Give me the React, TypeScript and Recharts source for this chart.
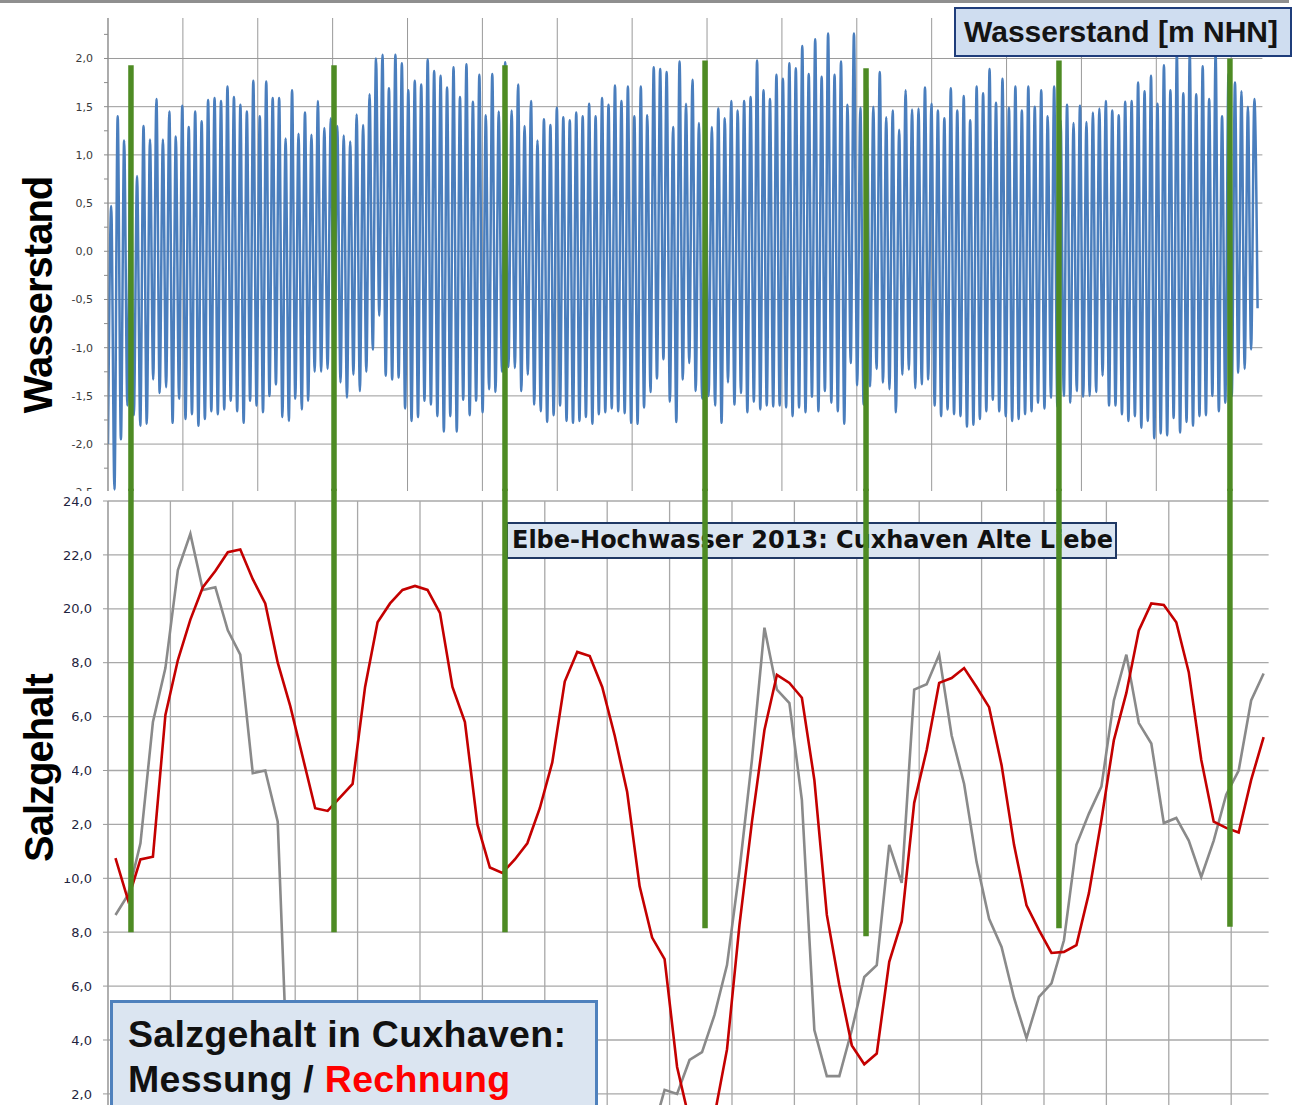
import React from "react";
import { LineChart, Line, XAxis, YAxis, CartesianGrid, ReferenceLine } from "recharts";

// Wasserstand Cuxhaven [m NHN]: Niedrig- und Hochwasser im Wechsel, beginnend mit Niedrigwasser
const niedrigwasser = [
  -2.0, -2.47, -1.95, -1.6, -1.7, -1.81, -1.79, -1.33, -1.47, -1.41, -1.78, -1.53, -1.74, -1.69, -1.81, -1.74,
  -1.66, -1.69, -1.64, -1.55, -1.66, -1.78, -1.55, -1.6, -1.67, -1.5, -1.38, -1.72, -1.76, -1.53, -1.64,
  -1.55, -1.25, -1.25, -1.22, -1.47, -1.36, -1.52, -1.28, -1.45, -1.25, -1.02, -0.67, -1.29, -1.33, -1.31,
  -1.63, -1.76, -1.72, -1.55, -1.59, -1.71, -1.87, -1.71, -1.87, -1.54, -1.7, -1.55, -1.67, -1.43,
  -1.46, -1.25, -1.2, -1.21, -1.45, -1.28, -1.59, -1.66, -1.77, -1.7, -1.6, -1.76, -1.78, -1.76, -1.72,
  -1.79, -1.69, -1.67, -1.63, -1.66, -1.68, -1.78, -1.79, -1.62, -1.46, -1.32, -1.12, -1.56, -1.77,
  -1.33, -1.16, -1.45, -1.53, -1.5, -1.6, -1.78, -1.36, -1.59, -1.47, -1.67, -1.56, -1.64, -1.6, -1.61,
  -1.6, -1.62, -1.71, -1.62, -1.67, -1.51, -1.66, -1.45, -1.57, -1.66, -1.79, -1.16, -1.39, -1.59,
  -1.4, -1.22, -1.36, -1.43, -1.67, -1.28, -1.23, -1.42, -1.38, -1.33, -1.6, -1.71, -1.64, -1.69, -1.71,
  -1.82, -1.8, -1.74, -1.66, -1.54, -1.66, -1.71, -1.76, -1.74, -1.69, -1.66, -1.57, -1.63, -1.52, -1.61,
  -1.5, -1.57, -1.45, -1.51, -1.5, -1.46, -1.29, -1.6, -1.6, -1.69, -1.76, -1.71, -1.83, -1.76, -1.94,
  -1.89, -1.91, -1.73, -1.88, -1.77, -1.81, -1.71, -1.7, -1.5, -1.66, -1.57, -1.5, -1.26, -1.22, -1.02,
];
const hochwasser = [
  0.47, 1.4, 1.15, 1.02, 0.78, 1.3, 1.16, 1.58, 1.16, 1.45, 1.19, 1.51, 1.29, 1.45, 1.35, 1.57, 1.59, 1.56,
  1.71, 1.6, 1.52, 1.45, 1.77, 1.4, 1.76, 1.59, 1.59, 1.17, 1.67, 1.22,
  1.44, 1.21, 1.56, 1.28, 1.38, 1.3, 1.2, 1.14, 1.42, 1.31, 1.63, 2.0, 2.04, 1.69, 2.04, 1.95, 1.67, 1.77,
  1.73, 1.99, 1.87, 1.82, 1.7, 1.91, 1.6, 1.94, 1.55, 1.83, 1.41, 1.84,
  1.45, 1.96, 1.46, 1.73, 1.3, 1.56, 1.15, 1.37, 1.31, 1.49, 1.39, 1.36, 1.44, 1.4, 1.53, 1.4, 1.59, 1.52,
  1.72, 1.56, 1.71, 1.4, 1.71, 1.41, 1.91, 1.89, 1.86, 1.29, 1.97,
  1.53, 1.78, 1.33, 1.47, 1.29, 1.48, 1.38, 1.56, 1.46, 1.56, 1.6, 1.98, 1.67, 1.58, 1.83, 1.79, 1.95, 1.9,
  2.13, 1.84, 2.2, 1.81, 2.26, 1.83, 1.97, 1.52, 2.26, 1.49, 1.71,
  1.5, 1.86, 1.39, 1.46, 1.26, 1.67, 1.47, 1.48, 1.7, 1.53, 1.46, 1.38, 1.69, 1.46, 1.61, 1.36, 1.71, 1.64,
  1.89, 1.54, 1.79, 1.49, 1.71, 1.46, 1.71, 1.5, 1.67, 1.4, 1.71,
  1.36, 1.52, 1.33, 1.51, 1.34, 1.44, 1.48, 1.56, 1.46, 1.41, 1.55, 1.56, 1.75, 1.66, 1.82, 1.53, 1.93,
  1.67, 2.05, 1.64, 2.05, 1.63, 1.92, 1.58, 2.05, 1.4, 1.84, 1.75, 1.66, 1.5, 1.58,
];
const wasserstandEnde = -0.59;

// Salzgehalt, ein Wert pro Tag
const rechnung = [
  10.75, 9.2, 10.7, 10.8, 16.06, 18.1, 19.6, 20.8, 21.4, 22.1,
  22.2, 21.1, 20.2, 18.0, 16.4, 14.5, 12.6, 12.5, 13.0, 13.5,
  17.1, 19.5, 20.2, 20.7, 20.85, 20.7, 19.85, 17.1, 15.8, 12.0,
  10.4, 10.2, 10.7, 11.3, 12.6, 14.3, 17.3, 18.4, 18.25, 17.1,
  15.3, 13.2, 9.7, 7.8, 7.0, 3.0, 1.0, 0.8, 1.2, 3.65,
  8.27, 12.1, 15.5, 17.55, 17.25, 16.7, 13.65, 8.64, 6.04, 3.8,
  3.1, 3.5, 6.9, 8.4, 12.8, 14.76, 17.25, 17.43, 17.8, 17.1,
  16.35, 14.2, 11.24, 9.0, 8.08, 7.23, 7.27, 7.52, 9.45, 12.16,
  15.13, 16.88, 19.2, 20.2, 20.14, 19.5, 17.65, 14.4, 12.1, 11.87,
  11.7, 13.65, 15.24,
];
const messung = [
  8.64, 9.38, 11.3, 15.8, 17.8, 21.44, 22.78, 20.7, 20.8, 19.2, 18.3, 13.9, 14.0, 12.1,
  0,
  ...Array(28).fill(null),
  0.5,
  2.15, 2.0, 3.26, 3.55, 4.93, 6.78, 10.3, 14.4, 19.3, 17.0,
  16.5, 12.9, 4.37, 2.66, 2.66, 4.37, 6.34, 6.78, 11.24, 9.83,
  17.0, 17.2, 18.3, 15.3, 13.5, 10.6, 8.5, 7.45, 5.56, 4.07,
  5.6, 6.1, 7.7, 11.24, 12.4, 13.4, 16.6, 18.3, 15.76, 15.0,
  12.05, 12.24, 11.4, 10.05, 11.4, 13.1, 14.0, 16.6, 17.6,
];

// grüne Markierungen (Tag, Oberkante Wasserstand, Unterkante Salzgehalt)
const markerTage = [1.84, 18.11, 31.81, 47.84, 60.74, 76.2, 89.9];
const markerOben = [1.93, 1.93, 1.93, 1.98, 1.9, 1.98, 2.0];
const markerUnten = [8.0, 8.0, 8.0, 8.15, 7.85, 8.15, 8.2];

const wasserTicks = [-2.5, -2.25, -2, -1.75, -1.5, -1.25, -1, -0.75, -0.5, -0.25, 0, 0.25, 0.5, 0.75, 1, 1.25, 1.5, 1.75, 2, 2.25];
const wasserGitter = [-2, -1.5, -1, -0.5, 0, 0.5, 1, 1.5, 2];
const wasserTageGitter = [0, 6, 12, 18, 24, 30, 36, 42, 48, 54, 60, 66, 72, 78, 84, 90];
const salzTicks = [2, 4, 6, 8, 10, 12, 14, 16, 18, 20, 22, 24];
const salzTageGitter = [0, 5, 10, 15, 20, 25, 30, 35, 40, 45, 50, 55, 60, 65, 70, 75, 80, 85, 90];

const HALBE_TIDE = 12.42 / 48; // Tage
const SALZ_START = 0.6;
const PX_TAG = 12.48;
const PLOT_LEFT = 108;
const AXIS_W = 60;
const WASSER_MIN = -2.5;
const WASSER_MAX = 2.42;
const PX_M = 96.4;
const PX_SALZ = 26.95;
const TOP_TAGE = 92.5;
const BOT_TAGE = 93;

const wasserData = (() => {
  const rows: { t: number; w: number }[] = [];
  let i = 0;
  for (let k = 0; k < niedrigwasser.length; k++) {
    rows.push({ t: i++ * HALBE_TIDE, w: niedrigwasser[k] });
    if (k < hochwasser.length) rows.push({ t: i++ * HALBE_TIDE, w: hochwasser[k] });
  }
  rows.push({ t: i * HALBE_TIDE, w: wasserstandEnde });
  return rows;
})();

const salzData = rechnung.map((r, k) => ({ t: SALZ_START + k, rechnung: r, messung: messung[k] }));

const komma = (v: number) => v.toFixed(1).replace(".", ",");
const GREEN = "#4e8b24";

function WasserChart() {
  const plotH = (WASSER_MAX - WASSER_MIN) * PX_M;
  return (
    <LineChart
      width={PLOT_LEFT + TOP_TAGE * PX_TAG + 10}
      height={18 + plotH + 20}
      data={wasserData}
      margin={{ top: 18, right: 10, bottom: 20, left: PLOT_LEFT - AXIS_W }}
    >
      <CartesianGrid horizontalValues={wasserGitter} verticalValues={wasserTageGitter} stroke="#9a9a9a" />
      <XAxis type="number" dataKey="t" domain={[0, TOP_TAGE]} ticks={wasserTageGitter} hide allowDataOverflow />
      <YAxis
        type="number"
        domain={[WASSER_MIN, WASSER_MAX]}
        ticks={wasserTicks}
        interval={0}
        allowDataOverflow
        width={AXIS_W}
        tickSize={4}
        tickMargin={11}
        stroke="#8c8c8c"
        tick={{ fontSize: 11, fill: "#3a3a3a", fontFamily: "DejaVu Sans" }}
        tickFormatter={(v: number) => (Math.abs(v * 2 - Math.round(v * 2)) > 1e-6 ? "" : komma(v))}
      />
      <Line type="monotone" dataKey="w" stroke="#4a7ebd" strokeWidth={2.5} dot={false} isAnimationActive={false} />
      {markerTage.map((d, i) => (
        <ReferenceLine
          key={d}
          segment={[{ x: d, y: markerOben[i] }, { x: d, y: WASSER_MIN }]}
          stroke={GREEN}
          strokeWidth={5.5}
          ifOverflow="visible"
        />
      ))}
    </LineChart>
  );
}

function SalzChart({ overlay }: { overlay?: boolean }) {
  const plotH = 24 * PX_SALZ;
  const top = overlay ? 20 : 10;
  return (
    <LineChart
      width={PLOT_LEFT + BOT_TAGE * PX_TAG + 10}
      height={top + plotH + 10}
      data={salzData}
      margin={{ top, right: 10, bottom: 10, left: overlay ? PLOT_LEFT : PLOT_LEFT - AXIS_W }}
    >
      {!overlay && (
        <CartesianGrid horizontalValues={salzTicks} verticalValues={salzTageGitter} stroke="#a8a8a8" strokeWidth={1.3} />
      )}
      <XAxis type="number" dataKey="t" domain={[0, BOT_TAGE]} ticks={salzTageGitter} hide allowDataOverflow />
      <YAxis
        type="number"
        domain={[0, 24]}
        ticks={salzTicks}
        interval={0}
        allowDataOverflow
        hide={overlay}
        width={AXIS_W}
        tickSize={5}
        tickMargin={11}
        stroke="#999999"
        tick={{ fontSize: 13, fill: "#1f2540", fontFamily: "DejaVu Sans" }}
        tickFormatter={komma}
      />
      {!overlay && (
        <Line type="linear" dataKey="messung" stroke="#8a8a8a" strokeWidth={2.6} dot={false} isAnimationActive={false} />
      )}
      {!overlay && (
        <Line type="linear" dataKey="rechnung" stroke="#c40000" strokeWidth={2.6} dot={false} isAnimationActive={false} />
      )}
      {overlay &&
        markerTage.map((d, i) => (
          <ReferenceLine
            key={d}
            segment={[{ x: d, y: 24.45 }, { x: d, y: markerUnten[i] }]}
            stroke={GREEN}
            strokeWidth={5.5}
            ifOverflow="visible"
          />
        ))}
    </LineChart>
  );
}

const titleFont = "'Liberation Sans', Arial, sans-serif";

export default function App() {
  return (
    <div
      style={{
        position: "fixed",
        left: 0,
        top: 0,
        width: 1294,
        height: 1105,
        overflow: "hidden",
        background: "#fff",
        fontFamily: titleFont,
      }}
    >
      <div style={{ position: "absolute", left: 0, top: 0, width: 1289, height: 3, background: "#8f8f8f" }} />

      <div style={{ position: "absolute", left: 0, top: 0 }}>
        <WasserChart />
      </div>

      <div style={{ position: "absolute", left: 0, top: 491, background: "#fff" }}>
        <SalzChart />
      </div>

      {/* Elbe box */}
      <div
        style={{
          position: "absolute",
          left: 506,
          top: 522,
          width: 611,
          height: 37,
          boxSizing: "border-box",
          border: "2px solid #1f3864",
          background: "#dbe5f1",
          fontFamily: "'DejaVu Sans', Verdana, sans-serif",
          fontWeight: "bold",
          fontSize: 24,
          lineHeight: "33px",
          paddingLeft: 4,
          whiteSpace: "nowrap",
          color: "#111",
        }}
      >
        Elbe-Hochwasser 2013: Cuxhaven Alte Liebe
      </div>

      <div style={{ position: "absolute", left: 0, top: 481 }}>
        <SalzChart overlay />
      </div>

      {/* Wasserstand box */}
      <div
        style={{
          position: "absolute",
          left: 954,
          top: 7,
          width: 338,
          height: 50,
          boxSizing: "border-box",
          border: "2.5px solid #1f3d7b",
          background: "#cfddf0",
          fontWeight: "bold",
          fontSize: 30,
          lineHeight: "45px",
          paddingLeft: 8,
          whiteSpace: "nowrap",
          color: "#141414",
        }}
      >
        Wasserstand [m NHN]
      </div>

      {/* rotated axis titles */}
      <div
        style={{
          position: "absolute",
          left: 38,
          top: 295,
          transform: "translate(-50%, -50%) rotate(-90deg)",
          fontWeight: "bold",
          fontSize: 40,
          letterSpacing: -1,
          whiteSpace: "nowrap",
          color: "#000",
          lineHeight: "40px",
        }}
      >
        Wasserstand
      </div>
      <div style={{ position: "absolute", left: 0, top: 630, width: 72, height: 248, background: "#fff" }} />
      <div
        style={{
          position: "absolute",
          left: 39,
          top: 768,
          transform: "translate(-50%, -50%) rotate(-90deg)",
          fontWeight: "bold",
          fontSize: 40,
          letterSpacing: -1,
          whiteSpace: "nowrap",
          color: "#000",
          lineHeight: "40px",
        }}
      >
        Salzgehalt
      </div>

      {/* Salzgehalt box */}
      <div
        style={{
          position: "absolute",
          left: 110,
          top: 1000,
          width: 488,
          height: 130,
          boxSizing: "border-box",
          border: "3px solid #4f81bd",
          background: "#dbe5f1",
          fontWeight: "bold",
          fontSize: 37.5,
          letterSpacing: 0.3,
          lineHeight: "45px",
          paddingLeft: 15,
          paddingTop: 9,
          whiteSpace: "nowrap",
          color: "#111",
        }}
      >
        <div>Salzgehalt in Cuxhaven:</div>
        <div>
          Messung / <span style={{ color: "#ff0000" }}>Rechnung</span>
        </div>
      </div>
    </div>
  );
}
